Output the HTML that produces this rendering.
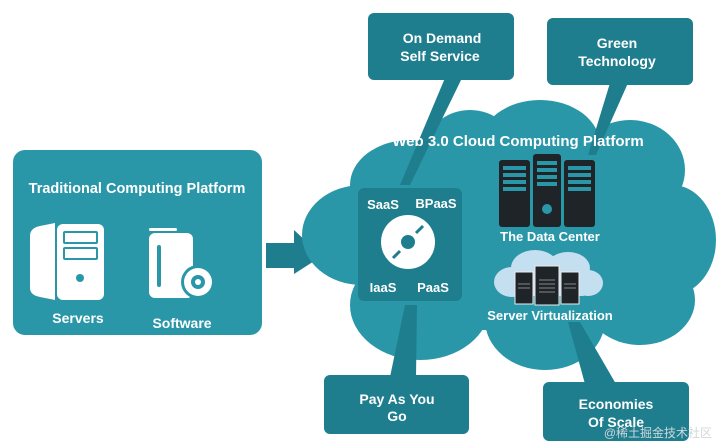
<!DOCTYPE html>
<html><head><meta charset="utf-8"><style>
html,body{margin:0;padding:0;background:#fff;width:720px;height:447px;overflow:hidden}
svg{display:block}
text{font-family:"Liberation Sans",sans-serif;fill:#fff;font-weight:bold}
</style></head><body>
<svg width="720" height="447" viewBox="0 0 720 447">
<rect x="13" y="150" width="249" height="185" rx="12" fill="#2a97a8"/>
<text x="137" y="193" font-size="14.5" text-anchor="middle">Traditional Computing Platform</text>
<path d="M30 236 Q30 228 40 226 L55 223 L55 300 L40 297 Q30 295 30 288 Z" fill="#fff"/>
<rect x="57" y="224" width="47" height="76" rx="6" fill="#fff"/>
<rect x="63" y="231" width="35" height="13" rx="2" fill="#2a97a8"/>
<rect x="63" y="247" width="35" height="13" rx="2" fill="#2a97a8"/>
<rect x="65" y="233" width="31" height="9" fill="#fff"/>
<rect x="65" y="249" width="31" height="9" fill="#fff"/>
<circle cx="80" cy="278" r="4" fill="#2a97a8"/>
<text x="78" y="323" font-size="14" text-anchor="middle">Servers</text>
<rect x="149" y="228" width="28" height="3" rx="1.5" fill="#fff"/>
<rect x="149" y="233" width="44" height="65" rx="6" fill="#fff"/>
<rect x="157" y="245" width="4" height="42" rx="2" fill="#2a97a8"/>
<circle cx="198" cy="282" r="17" fill="#2a97a8"/>
<circle cx="198" cy="282" r="14" fill="#fff"/>
<circle cx="198" cy="282" r="7" fill="#2a97a8"/>
<circle cx="198" cy="282" r="3" fill="#fff"/>
<text x="182" y="328" font-size="14" text-anchor="middle">Software</text>
<polygon points="266,243 294,243 294,230 322,256 294,274 294,268 266,268" fill="#1f7e8e"/>
<g fill="#2a97a8">
<ellipse cx="362" cy="235" rx="60" ry="50"/>
<ellipse cx="410" cy="185" rx="60" ry="45"/>
<ellipse cx="470" cy="150" rx="45" ry="40"/>
<ellipse cx="540" cy="145" rx="60" ry="45"/>
<ellipse cx="630" cy="170" rx="55" ry="50"/>
<ellipse cx="672" cy="240" rx="44" ry="55"/>
<ellipse cx="640" cy="300" rx="55" ry="45"/>
<ellipse cx="545" cy="320" rx="60" ry="50"/>
<ellipse cx="420" cy="305" rx="70" ry="55"/>
<rect x="360" y="160" width="300" height="170"/>
</g>
<polygon points="445,78 462,78 410,185 400,185" fill="#1f7e8e"/>
<polygon points="610,83 628,83 596,155 588,155" fill="#1f7e8e"/>
<polygon points="390,377 416,377 417,305 405,305" fill="#1f7e8e"/>
<polygon points="585,384 616,384 580,322 568,322" fill="#1f7e8e"/>
<text x="518" y="146" font-size="15" text-anchor="middle">Web 3.0 Cloud Computing Platform</text>
<rect x="358" y="188" width="104" height="113" rx="6" fill="#1f7e8e"/>
<text x="383" y="209" font-size="13" text-anchor="middle">SaaS</text>
<text x="436" y="208" font-size="13" text-anchor="middle">BPaaS</text>
<text x="383" y="292" font-size="13" text-anchor="middle">IaaS</text>
<text x="433" y="292" font-size="13" text-anchor="middle">PaaS</text>
<circle cx="408" cy="242" r="27" fill="#fff"/>
<circle cx="408" cy="242" r="7" fill="#1f7e8e"/>
<line x1="393" y1="258" x2="400" y2="251" stroke="#1f7e8e" stroke-width="3"/>
<line x1="416" y1="233" x2="423" y2="226" stroke="#1f7e8e" stroke-width="3"/>
<g fill="#1e2428">
<rect x="499" y="160" width="31" height="67" rx="3"/>
<rect x="533" y="154" width="28" height="73" rx="3"/>
<rect x="564" y="160" width="31" height="67" rx="3"/>
</g>
<g fill="#2a97a8">
<rect x="503" y="166" width="23" height="4"/><rect x="503" y="173" width="23" height="4"/><rect x="503" y="180" width="23" height="4"/><rect x="503" y="187" width="23" height="4"/>
<rect x="537" y="161" width="20" height="4"/><rect x="537" y="168" width="20" height="4"/><rect x="537" y="175" width="20" height="4"/><rect x="537" y="182" width="20" height="4"/>
<rect x="568" y="166" width="23" height="4"/><rect x="568" y="173" width="23" height="4"/><rect x="568" y="180" width="23" height="4"/><rect x="568" y="187" width="23" height="4"/>
<circle cx="547" cy="209" r="5"/>
</g>
<text x="550" y="241" font-size="13" text-anchor="middle">The Data Center</text>
<g fill="#c4dff0">
<ellipse cx="512" cy="282" rx="18" ry="15"/>
<ellipse cx="535" cy="268" rx="24" ry="18"/>
<ellipse cx="568" cy="268" rx="22" ry="16"/>
<ellipse cx="588" cy="283" rx="15" ry="13"/>
<rect x="510" y="275" width="80" height="21" rx="8"/>
</g>
<g fill="#1e2428" stroke="#eee" stroke-width="1">
<rect x="515" y="272" width="18" height="32"/>
<rect x="535" y="266" width="24" height="39"/>
<rect x="561" y="272" width="18" height="32"/>
</g>
<g stroke="#888" stroke-width="1">
<line x1="539" y1="280" x2="555" y2="280"/><line x1="539" y1="284" x2="555" y2="284"/><line x1="539" y1="288" x2="555" y2="288"/><line x1="539" y1="292" x2="555" y2="292"/>
<line x1="518" y1="284" x2="530" y2="284"/><line x1="518" y1="288" x2="530" y2="288"/><line x1="564" y1="284" x2="576" y2="284"/><line x1="564" y1="288" x2="576" y2="288"/>
</g>
<text x="550" y="320" font-size="13" text-anchor="middle">Server Virtualization</text>
<rect x="368" y="13" width="146" height="67" rx="6" fill="#1f7e8e"/>
<text x="442" y="43" font-size="14" text-anchor="middle">On Demand</text>
<text x="440" y="61" font-size="14" text-anchor="middle">Self Service</text>
<rect x="547" y="18" width="146" height="67" rx="6" fill="#1f7e8e"/>
<text x="617" y="48" font-size="14" text-anchor="middle">Green</text>
<text x="617" y="66" font-size="14" text-anchor="middle">Technology</text>
<rect x="324" y="375" width="145" height="59" rx="6" fill="#1f7e8e"/>
<text x="397" y="404" font-size="14" text-anchor="middle">Pay As You</text>
<text x="397" y="421" font-size="14" text-anchor="middle">Go</text>
<rect x="543" y="382" width="146" height="59" rx="6" fill="#1f7e8e"/>
<text x="616" y="409" font-size="14" text-anchor="middle">Economies</text>
<text x="616" y="427" font-size="14" text-anchor="middle">Of Scale</text>
<text x="712" y="437" font-size="12" text-anchor="end" style="font-weight:normal;fill:#cfd8dc;font-family:'Liberation Sans','Noto Sans CJK SC',sans-serif">@稀土掘金技术社区</text>
</svg>
</body></html>
